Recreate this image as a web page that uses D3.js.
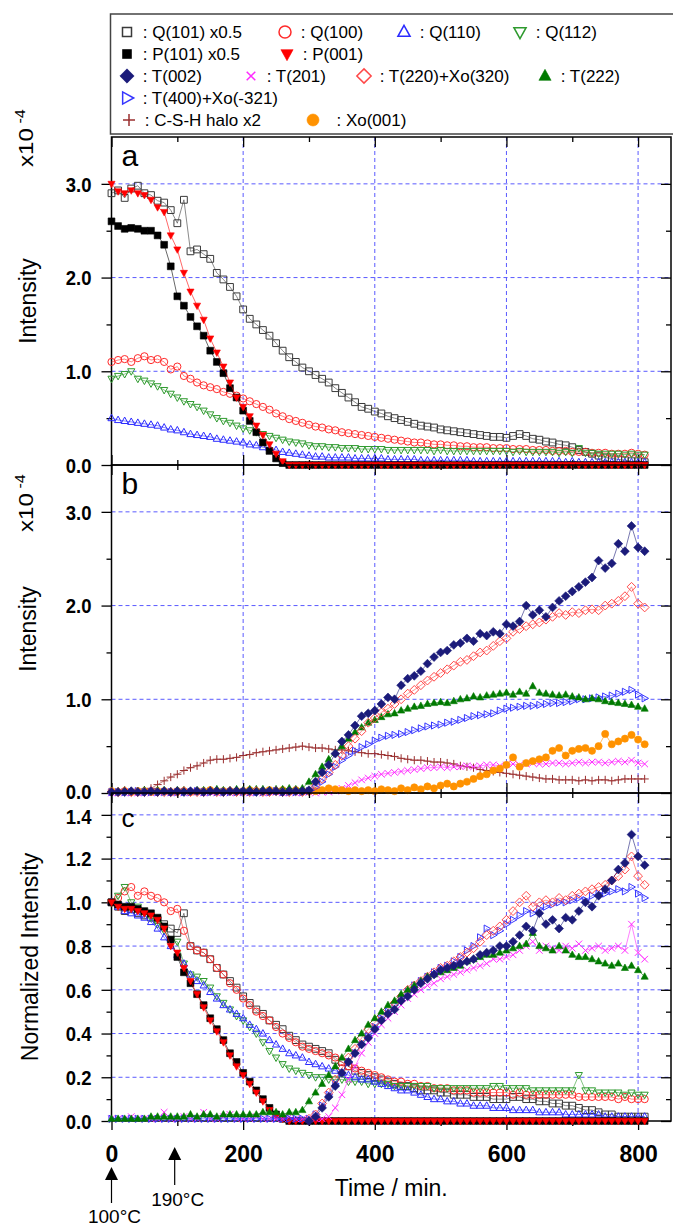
<!DOCTYPE html>
<html><head><meta charset="utf-8">
<script src="https://cdn.jsdelivr.net/npm/d3@7"></script>
<style>body{margin:0;background:#fff}svg{display:block}</style>
</head><body>
<svg id="chart" width="673" height="1229"></svg>
<script>
// ---------------- DATA ----------------
const times = [0,10,20,30,40,50,60,70,80,90,
100,110,120,130,140,150,160,170,180,190,
200,210,220,230,240,250,260,270,280,290,
300,310,320,330,340,350,360,370,380,390,
400,410,420,430,440,450,460,470,480,490,
500,510,520,530,540,550,560,570,580,590,
600,610,620,630,640,650,660,670,680,690,
700,710,720,730,740,750,760,770,780,790,
800,810];

// Panel a (Intensity x10^-4)
const aQ101 = [2.90,2.93,2.85,2.95,2.98,2.90,2.88,2.82,2.80,2.72,
2.58,2.83,2.28,2.30,2.25,2.20,2.05,1.98,1.90,1.80,
1.66,1.56,1.50,1.44,1.38,1.30,1.22,1.15,1.10,1.04,
1.00,0.96,0.92,0.88,0.82,0.77,0.72,0.67,0.62,0.60,
0.57,0.55,0.52,0.50,0.48,0.46,0.44,0.42,0.41,0.40,
0.38,0.37,0.36,0.35,0.34,0.33,0.32,0.31,0.30,0.30,
0.29,0.31,0.33,0.31,0.28,0.27,0.25,0.24,0.22,0.21,
0.19,0.16,0.14,0.12,0.10,0.08,0.07,0.06,0.05,0.04,
0.04,0.03];
const aP101 = [2.60,2.55,2.52,2.53,2.52,2.50,2.50,2.45,2.35,2.12,
1.80,1.70,1.58,1.48,1.38,1.22,1.10,0.98,0.82,0.72,
0.58,0.47,0.35,0.24,0.15,0.07,0.02,0,0,0,
0,0,0,0,0,0,0,0,0,0,
0,0,0,0,0,0,0,0,0,0,
0,0,0,0,0,0,0,0,0,0,
0,0,0,0,0,0,0,0,0,0,
0,0,0,0,0,0,0,0,0,0,
0,0];
const aP001 = [3.00,2.92,2.90,2.93,2.90,2.88,2.83,2.75,2.70,2.45,
2.30,2.05,1.85,1.70,1.55,1.35,1.20,1.05,0.88,0.72,
0.62,0.52,0.42,0.32,0.22,0.12,0.04,0,0,0,
0,0,0,0,0,0,0,0,0,0,
0,0,0,0,0,0,0,0,0,0,
0,0,0,0,0,0,0,0,0,0,
0,0,0,0,0,0,0,0,0,0,
0,0,0,0,0,0,0,0,0,0,
0,0];
const aQ100 = [1.10,1.12,1.13,1.10,1.14,1.16,1.12,1.13,1.10,1.02,
1.05,0.95,0.92,0.88,0.85,0.83,0.81,0.78,0.76,0.74,
0.71,0.68,0.65,0.62,0.59,0.55,0.52,0.49,0.47,0.45,
0.43,0.41,0.40,0.38,0.37,0.35,0.34,0.33,0.32,0.31,
0.30,0.29,0.28,0.27,0.26,0.25,0.24,0.24,0.23,0.22,
0.22,0.21,0.21,0.20,0.20,0.19,0.19,0.19,0.18,0.18,
0.18,0.17,0.17,0.17,0.16,0.16,0.16,0.15,0.15,0.15,
0.14,0.14,0.14,0.13,0.13,0.13,0.12,0.12,0.12,0.13,
0.12,0.11];
const aQ112 = [0.92,0.95,0.97,1.00,0.92,0.90,0.87,0.84,0.80,0.76,
0.72,0.68,0.65,0.62,0.58,0.54,0.50,0.47,0.45,0.42,
0.39,0.37,0.35,0.33,0.31,0.29,0.27,0.25,0.24,0.23,
0.21,0.20,0.20,0.19,0.19,0.18,0.18,0.18,0.17,0.17,
0.17,0.17,0.16,0.16,0.16,0.16,0.16,0.16,0.16,0.15,
0.16,0.15,0.15,0.15,0.15,0.15,0.15,0.15,0.15,0.15,
0.15,0.14,0.15,0.14,0.14,0.14,0.14,0.14,0.13,0.14,
0.13,0.18,0.13,0.13,0.12,0.12,0.12,0.12,0.11,0.12,
0.11,0.11];
const aQ110 = [0.50,0.48,0.47,0.46,0.45,0.44,0.43,0.42,0.40,0.38,
0.37,0.35,0.33,0.32,0.31,0.30,0.28,0.27,0.26,0.25,
0.24,0.22,0.21,0.19,0.18,0.16,0.14,0.13,0.12,0.11,
0.10,0.09,0.09,0.08,0.08,0.08,0.08,0.07,0.07,0.07,
0.07,0.07,0.06,0.06,0.06,0.06,0.06,0.05,0.05,0.05,
0.05,0.05,0.05,0.05,0.05,0.04,0.04,0.04,0.04,0.04,
0.04,0.04,0.04,0.04,0.04,0.04,0.04,0.04,0.04,0.03,
0.04,0.03,0.03,0.03,0.03,0.03,0.03,0.03,0.03,0.03,
0.03,0.03];

// Panel b (Intensity x10^-4)
const bT002 = [0.01,0.01,0.01,0.02,0.01,0.01,0.02,0.01,0.02,0.01,
0.02,0.01,0.02,0.02,0.01,0.02,0.02,0.01,0.02,0.02,
0.02,0.02,0.01,0.02,0.02,0.02,0.01,0.02,0.02,0.02,
0.03,0.12,0.22,0.30,0.42,0.55,0.62,0.72,0.82,0.85,
0.88,0.95,1.02,1.00,1.15,1.22,1.25,1.30,1.38,1.45,
1.50,1.52,1.58,1.60,1.65,1.62,1.70,1.68,1.72,1.70,
1.80,1.78,1.83,2.00,1.90,1.95,1.88,1.98,2.05,2.10,
2.15,2.20,2.25,2.30,2.48,2.40,2.45,2.66,2.58,2.85,
2.62,2.58];
const bT220 = [0.01,0.01,0.02,0.01,0.01,0.01,0.02,0.01,0.01,0.01,
0.01,0.02,0.01,0.01,0.01,0.02,0.01,0.01,0.02,0.01,
0.01,0.01,0.02,0.01,0.01,0.02,0.01,0.01,0.02,0.01,
0.02,0.08,0.15,0.22,0.30,0.40,0.50,0.58,0.66,0.75,
0.80,0.86,0.90,0.95,1.00,1.06,1.10,1.15,1.20,1.24,
1.28,1.32,1.36,1.40,1.42,1.46,1.50,1.52,1.57,1.62,
1.65,1.72,1.75,1.78,1.80,1.82,1.85,1.88,1.92,1.90,
1.93,1.92,1.95,1.96,1.95,2.00,2.02,2.05,2.10,2.20,
2.02,1.98];
const bT222 = [0.02,0.02,0.03,0.02,0.02,0.03,0.02,0.03,0.03,0.02,
0.03,0.03,0.02,0.03,0.03,0.03,0.04,0.03,0.03,0.04,
0.03,0.04,0.04,0.04,0.03,0.04,0.04,0.05,0.04,0.05,
0.12,0.20,0.28,0.36,0.43,0.50,0.58,0.65,0.70,0.75,
0.78,0.81,0.84,0.85,0.88,0.90,0.92,0.93,0.95,0.96,
0.97,0.96,0.98,1.00,1.01,1.03,1.02,1.04,1.05,1.06,
1.07,1.05,1.08,1.06,1.14,1.07,1.06,1.05,1.04,1.05,
1.03,1.02,1.00,1.01,1.00,0.98,0.97,0.96,0.95,0.94,
0.92,0.90];
const bT400 = [0.01,0.01,0.01,0.01,0.02,0.01,0.01,0.01,0.01,0.01,
0.01,0.01,0.01,0.02,0.01,0.01,0.01,0.01,0.01,0.01,
0.01,0.01,0.01,0.01,0.01,0.02,0.01,0.01,0.01,0.01,
0.02,0.06,0.12,0.20,0.28,0.35,0.40,0.45,0.49,0.52,
0.56,0.59,0.61,0.62,0.63,0.65,0.67,0.69,0.71,0.72,
0.73,0.75,0.76,0.78,0.80,0.82,0.83,0.84,0.85,0.88,
0.90,0.91,0.92,0.93,0.93,0.94,0.95,0.96,0.96,0.97,
0.98,1.00,1.00,1.01,1.02,1.03,1.04,1.06,1.08,1.10,
1.05,1.01];
const bT201 = [0.00,0.01,0.00,0.01,0.00,0.01,0.00,0.01,0.01,0.00,
0.01,0.00,0.01,0.01,0.00,0.01,0.00,0.01,0.00,0.01,
0.01,0.00,0.01,0.00,0.01,0.01,0.00,0.01,0.00,0.01,
0.01,0.00,0.01,0.01,0.02,0.05,0.08,0.11,0.14,0.16,
0.18,0.20,0.21,0.22,0.23,0.24,0.25,0.26,0.27,0.27,
0.28,0.27,0.28,0.28,0.29,0.28,0.29,0.30,0.30,0.29,
0.30,0.31,0.30,0.31,0.32,0.31,0.31,0.32,0.32,0.31,
0.32,0.33,0.32,0.33,0.33,0.32,0.33,0.34,0.33,0.35,
0.32,0.31];
const bCSH = [0.01,0.01,0.02,0.01,0.02,0.03,0.05,0.09,0.13,0.17,
0.20,0.24,0.27,0.29,0.32,0.35,0.36,0.36,0.37,0.38,
0.40,0.41,0.43,0.44,0.45,0.46,0.47,0.48,0.49,0.50,
0.49,0.48,0.48,0.47,0.46,0.46,0.45,0.44,0.43,0.42,
0.42,0.41,0.40,0.39,0.37,0.36,0.35,0.35,0.34,0.33,
0.33,0.32,0.31,0.29,0.28,0.27,0.25,0.24,0.23,0.22,
0.21,0.20,0.19,0.18,0.17,0.16,0.15,0.15,0.14,0.14,
0.14,0.13,0.14,0.13,0.14,0.14,0.13,0.14,0.15,0.15,
0.15,0.15];
const bXo001 = [0.02,0.01,0.02,0.01,0.02,0.02,0.01,0.02,0.02,0.01,
0.02,0.02,0.01,0.02,0.02,0.03,0.02,0.02,0.02,0.02,
0.02,0.03,0.02,0.02,0.03,0.02,0.03,0.02,0.03,0.02,
0.02,0.02,0.03,0.05,0.04,0.03,0.02,0.03,0.02,0.03,
0.02,0.04,0.03,0.02,0.05,0.03,0.06,0.04,0.07,0.05,
0.08,0.10,0.07,0.10,0.12,0.15,0.18,0.20,0.24,0.26,
0.30,0.38,0.28,0.32,0.34,0.36,0.38,0.45,0.48,0.40,
0.45,0.47,0.48,0.45,0.50,0.63,0.52,0.55,0.58,0.62,
0.57,0.52];

// Panel c (Normalized intensity); null = no point
const cQ101 = [1.00,0.98,0.96,0.97,0.95,0.94,0.93,0.92,0.90,0.88,
0.86,0.95,0.80,0.78,0.77,0.74,0.70,0.67,0.64,0.61,
0.57,0.54,0.51,0.49,0.46,0.44,0.42,0.39,0.37,0.35,
0.34,0.33,0.32,0.31,0.28,0.27,0.25,0.23,0.22,0.21,
0.20,0.19,0.18,0.17,0.16,0.16,0.15,0.14,0.14,0.14,
0.13,0.13,0.12,0.12,0.12,0.11,0.11,0.11,0.10,0.10,
0.10,0.11,0.11,0.10,0.10,0.09,0.09,0.08,0.08,0.07,
0.07,0.06,0.05,0.05,0.04,0.03,0.03,0.02,0.02,0.02,
0.02,0.02];
const cP101 = [1.00,0.99,0.98,0.98,0.97,0.96,0.95,0.93,0.89,0.83,
0.75,0.68,0.63,0.58,0.53,0.47,0.42,0.37,0.31,0.27,
0.22,0.18,0.14,0.10,0.06,0.03,0.01,0,0,0,
0,0,0,0,0,0,0,0,0,0,
0,0,0,0,0,0,0,0,0,0,
0,0,0,0,0,0,0,0,0,0,
0,0,0,0,0,0,0,0,0,0,
0,0,0,0,0,0,0,0,0,0,
0,0];
const cP001 = [1.00,0.98,0.97,0.97,0.96,0.95,0.94,0.92,0.88,0.80,
0.77,0.70,0.64,0.58,0.52,0.46,0.41,0.36,0.30,0.25,
0.21,0.17,0.13,0.09,0.05,0.02,0.01,0,0,0,
0,0,0,0,0,0,0,0,0,0,
0,0,0,0,0,0,0,0,0,0,
0,0,0,0,0,0,0,0,0,0,
0,0,0,0,0,0,0,0,0,0,
0,0,0,0,0,0,0,0,0,0,
0,0];
const cQ100 = [1.00,1.02,1.05,1.07,1.03,1.05,1.03,1.02,1.00,0.96,
0.97,0.87,0.80,0.78,0.77,0.74,0.70,0.67,0.63,0.60,
0.56,0.53,0.50,0.48,0.46,0.43,0.40,0.38,0.36,0.34,
0.33,0.32,0.31,0.30,0.29,0.27,0.25,0.24,0.23,0.22,
0.21,0.20,0.19,0.18,0.18,0.17,0.17,0.16,0.16,0.15,
0.15,0.15,0.14,0.14,0.14,0.13,0.13,0.13,0.13,0.13,
0.13,0.12,0.13,0.12,0.12,0.12,0.12,0.12,0.12,0.12,
0.12,0.11,0.11,0.11,0.11,0.11,0.11,0.10,0.11,0.10,
0.10,0.10];
const cQ110 = [1.00,0.98,0.96,0.95,0.94,0.93,0.91,0.88,0.84,0.80,
0.76,0.72,0.67,0.64,0.62,0.59,0.56,0.53,0.51,0.49,
0.47,0.44,0.42,0.40,0.37,0.35,0.33,0.31,0.30,0.29,
0.27,0.26,0.25,0.24,0.23,0.22,0.21,0.20,0.19,0.19,
0.18,0.17,0.16,0.15,0.14,0.14,0.13,0.12,0.11,0.10,
0.10,0.09,0.09,0.08,0.08,0.07,0.07,0.07,0.06,0.06,
0.06,0.05,0.05,0.05,0.05,0.04,0.04,0.04,0.04,0.03,
0.03,0.03,0.03,0.03,0.03,0.02,0.02,0.02,0.02,0.02,
0.02,0.02];
const cQ112 = [1.00,1.03,1.07,1.00,0.98,0.95,0.93,0.90,0.87,0.83,
0.82,0.72,0.67,0.66,0.64,0.61,0.57,0.54,0.51,0.48,
0.46,0.43,0.40,0.36,0.32,0.29,0.26,0.24,0.23,0.22,
0.21,0.20,0.20,0.19,0.19,0.19,0.18,0.18,0.18,0.17,
0.17,0.17,0.17,0.16,0.16,0.16,0.16,0.16,0.16,0.15,
0.15,0.15,0.15,0.15,0.15,0.15,0.15,0.15,0.16,0.16,
0.15,0.15,0.15,0.15,0.14,0.14,0.14,0.14,0.14,0.14,
0.14,0.21,0.14,0.14,0.13,0.13,0.13,0.13,0.12,0.13,
0.12,0.12];
const cT002 = [null,null,null,null,null,null,null,null,null,null,
null,null,null,null,null,null,null,null,null,null,
null,null,null,null,null,null,null,null,null,null,
0.00,0.02,0.06,0.11,0.16,0.22,0.27,0.31,0.35,0.38,
0.42,0.46,0.49,0.51,0.55,0.57,0.60,0.63,0.65,0.67,
0.69,0.70,0.71,0.72,0.73,0.74,0.76,0.77,0.78,0.80,
0.80,0.82,0.85,0.89,0.87,0.95,0.90,0.92,0.88,0.93,
0.92,0.96,1.00,0.98,1.03,1.06,1.10,1.15,1.18,1.31,
1.21,1.17];
const cT220 = [null,null,null,null,null,null,null,null,null,null,
null,null,null,null,null,null,null,null,null,null,
null,null,null,null,null,null,null,null,null,null,
0.01,0.03,0.08,0.13,0.19,0.24,0.29,0.33,0.38,0.42,
0.45,0.48,0.51,0.54,0.57,0.60,0.62,0.64,0.66,0.68,
0.70,0.71,0.73,0.75,0.77,0.79,0.82,0.85,0.87,0.89,
0.92,0.96,1.00,1.03,0.98,1.00,1.01,1.00,1.02,1.01,
1.03,1.04,1.05,1.06,1.07,1.08,1.10,1.12,1.15,1.21,
1.12,1.08];
const cT400 = [0.01,0.01,0.01,0.01,0.01,0.01,0.01,0.01,0.01,0.01,
0.01,0.01,0.01,0.01,0.01,0.01,0.01,0.01,0.01,0.01,
0.01,0.01,0.01,0.01,0.01,0.01,0.01,0.01,0.01,0.01,
0.01,0.03,0.07,0.12,0.17,0.22,0.27,0.31,0.35,0.39,
0.43,0.47,0.50,0.53,0.56,0.59,0.62,0.64,0.66,0.68,
0.70,0.71,0.73,0.75,0.78,0.80,0.84,0.88,0.85,0.87,
0.90,0.92,0.94,0.96,0.95,0.97,0.98,0.99,1.00,1.00,
1.01,1.02,1.01,1.03,1.04,1.04,1.05,1.06,1.05,1.07,
1.04,1.02];
const cT222 = [0.01,0.01,0.01,0.01,0.01,0.01,0.02,0.02,0.02,0.02,
0.02,0.02,0.03,0.02,0.03,0.03,0.02,0.03,0.03,0.03,
0.03,0.03,0.03,0.04,0.04,0.04,0.03,0.04,0.04,0.05,
0.09,0.13,0.17,0.21,0.25,0.29,0.33,0.37,0.40,0.44,
0.47,0.50,0.53,0.55,0.58,0.60,0.62,0.64,0.66,0.67,
0.68,0.69,0.70,0.71,0.73,0.74,0.75,0.76,0.76,0.77,
0.78,0.79,0.80,0.81,0.86,0.80,0.79,0.78,0.80,0.78,
0.76,0.75,0.75,0.74,0.73,0.72,0.71,0.72,0.70,0.71,
0.69,0.66];
const cT201 = [0.01,0.01,0.01,0.02,0.01,0.01,0.01,0.01,0.04,0.01,
0.01,0.02,0.01,0.01,0.04,0.01,0.01,0.02,0.03,0.01,
0.01,0.01,0.02,0.01,0.01,0.01,0.01,0.02,0.01,0.01,
0.01,0.01,0.01,0.02,0.06,0.12,0.19,0.25,0.31,0.36,
0.40,0.44,0.47,0.50,0.53,0.56,0.58,0.60,0.62,0.63,
0.65,0.66,0.67,0.68,0.69,0.70,0.71,0.72,0.74,0.74,
0.75,0.76,0.78,0.80,0.82,0.78,0.80,0.79,0.78,0.80,
0.79,0.81,0.78,0.79,0.80,0.78,0.79,0.80,0.78,0.90,
0.77,0.74];

const xTickLabels = [0,200,400,600,800];
const xMinorTicks = [100,300,500,700];
const abTicks = [0,1,2,3];
const abMinor = [0.5,1.5,2.5];
const cTicks = [0,0.2,0.4,0.6,0.8,1.0,1.2,1.4];
const cMinor = [0.1,0.3,0.5,0.7,0.9,1.1,1.3];
const tempMarks = [{t:0,label:"100°C"},{t:96,label:"190°C"}];

// ---------------- STYLE ----------------
const FONT = "'Liberation Sans', Arial, Helvetica, sans-serif";
const S = {
  q101:{label:"Q(101) x0.5", sym:"square", color:"#3a3a3a", fill:false},
  q100:{label:"Q(100)", sym:"circle", color:"#ff2a2a", fill:false},
  q110:{label:"Q(110)", sym:"triUp", color:"#2b2bff", fill:false},
  q112:{label:"Q(112)", sym:"triDown", color:"#2e9a2e", fill:false},
  p101:{label:"P(101) x0.5", sym:"square", color:"#000000", fill:true},
  p001:{label:"P(001)", sym:"triDown", color:"#ff0000", fill:true},
  t002:{label:"T(002)", sym:"diamond", color:"#1b1b7a", fill:true},
  t201:{label:"T(201)", sym:"cross", color:"#ff2aff", fill:false},
  t220:{label:"T(220)+Xo(320)", sym:"diamond", color:"#ff4848", fill:false},
  t222:{label:"T(222)", sym:"triUp", color:"#007a00", fill:true},
  t400:{label:"T(400)+Xo(-321)", sym:"triRight", color:"#3535ff", fill:false},
  csh:{label:"C-S-H halo x2", sym:"plus", color:"#9a2f2f", fill:false},
  xo001:{label:"Xo(001)", sym:"circle", color:"#ff9200", fill:true}
};

function symPath(type, h){
  switch(type){
    case "square": return `M${-h},${-h}H${h}V${h}H${-h}Z`;
    case "circle": return `M${h},0A${h},${h} 0 1,1 ${-h},0A${h},${h} 0 1,1 ${h},0Z`;
    case "triUp": return `M0,${-h*1.15}L${h*1.05},${h*0.75}L${-h*1.05},${h*0.75}Z`;
    case "triDown": return `M0,${h*1.15}L${h*1.05},${-h*0.75}L${-h*1.05},${-h*0.75}Z`;
    case "triRight": return `M${h*1.15},0L${-h*0.75},${-h*1.05}L${-h*0.75},${h*1.05}Z`;
    case "diamond": { const k=h*1.3; return `M0,${-k}L${k},0L0,${k}L${-k},0Z`; }
    case "cross": return `M${-h},${-h}L${h},${h}M${-h},${h}L${h},${-h}`;
    case "plus": { const k=h*1.2; return `M${-k},0H${k}M0,${-k}V${k}`; }
  }
}

const svg = d3.select("#chart");
const X0 = 111.5, X1 = 671;
const x = d3.scaleLinear().domain([0,850]).range([X0,X1]);

const panels = [
  {id:"a", top:137, bottom:465, dom:[0,3.5], major:abTicks, minor:abMinor, title:"Intensity", exp:true,
   series:[["q101",aQ101],["q100",aQ100],["q112",aQ112],["q110",aQ110],["p101",aP101],["p001",aP001]]},
  {id:"b", top:465, bottom:793, dom:[0,3.5], major:abTicks, minor:abMinor, title:"Intensity", exp:true,
   series:[["csh",bCSH],["t201",bT201],["xo001",bXo001],["t400",bT400],["t222",bT222],["t220",bT220],["t002",bT002]]},
  {id:"c", top:793, bottom:1121, dom:[0,1.5], major:cTicks, minor:cMinor, title:"Normalized Intensity", exp:false,
   series:[["q101",cQ101],["q100",cQ100],["q112",cQ112],["q110",cQ110],["p101",cP101],["p001",cP001],
           ["t201",cT201],["t400",cT400],["t220",cT220],["t222",cT222],["t002",cT002]]}
];

function cleanAxis(g){
  g.attr("font-family",null).attr("font-size",null);
  g.select(".domain").remove();
  g.selectAll("line").attr("stroke","#000").attr("stroke-width",1.3);
}

panels.forEach((p)=>{
  const y = d3.scaleLinear().domain(p.dom).range([p.bottom,p.top]);
  const g = svg.append("g");
  // grid
  g.selectAll(".vg").data(xTickLabels.filter(d=>d>0)).join("line")
    .attr("x1",d=>x(d)).attr("x2",d=>x(d)).attr("y1",p.top).attr("y2",p.bottom)
    .attr("stroke","#5a5aff").attr("stroke-width",1).attr("stroke-dasharray","4,3");
  g.selectAll(".hg").data(p.major.filter(d=>d>0)).join("line")
    .attr("x1",X0).attr("x2",X1).attr("y1",d=>y(d)).attr("y2",d=>y(d))
    .attr("stroke","#5a5aff").attr("stroke-width",1).attr("stroke-dasharray","4,3");
  // frame
  g.append("rect").attr("x",X0).attr("y",p.top).attr("width",X1-X0).attr("height",p.bottom-p.top)
    .attr("fill","none").attr("stroke","#000").attr("stroke-width",1.5);
  // left axis
  const la = g.append("g").attr("transform",`translate(${X0},0)`)
    .call(d3.axisLeft(y).tickValues(p.major).tickSize(10).tickFormat(d3.format(".1f")));
  cleanAxis(la);
  la.selectAll("text").attr("x",-20/0.88).attr("dy","0.35em").attr("transform","scale(0.88,1)")
    .style("font-family",FONT).style("font-weight","bold").style("font-size","21px").attr("fill","#000");
  if(p.id==="b") la.selectAll("text").filter(d=>d===0).attr("y",-2);
  if(p.id==="c") la.selectAll("text").filter(d=>d===1.4).attr("y",1);
  const lm = g.append("g").attr("transform",`translate(${X0},0)`)
    .call(d3.axisLeft(y).tickValues(p.minor).tickSize(5).tickFormat(""));
  cleanAxis(lm);
  // right axis (inward)
  [[p.major,10],[p.minor,5]].forEach(([tv,sz])=>{
    const ra = g.append("g").attr("transform",`translate(${X1},0)`)
      .call(d3.axisLeft(y).tickValues(tv).tickSize(sz).tickFormat(""));
    cleanAxis(ra);
  });
  // top axis (inward)
  [[xTickLabels,10],[xMinorTicks,5]].forEach(([tv,sz])=>{
    const ta = g.append("g").attr("transform",`translate(0,${p.top})`)
      .call(d3.axisBottom(x).tickValues(tv).tickSize(sz).tickFormat(""));
    cleanAxis(ta);
  });
  // bottom axis
  if(p.id!=="c"){
    [[xTickLabels,10],[xMinorTicks,5]].forEach(([tv,sz])=>{
      const ba = g.append("g").attr("transform",`translate(0,${p.bottom})`)
        .call(d3.axisTop(x).tickValues(tv).tickSize(sz).tickFormat(""));
      cleanAxis(ba);
    });
  } else {
    const ba = g.append("g").attr("transform",`translate(0,${p.bottom})`)
      .call(d3.axisBottom(x).tickValues(xTickLabels).tickSize(9).tickFormat(d3.format("d")));
    cleanAxis(ba);
    ba.selectAll("text").attr("y",25).attr("dy","0.71em")
      .style("font-family",FONT).style("font-weight","bold").style("font-size","23px").attr("fill","#000");
    const bm = g.append("g").attr("transform",`translate(0,${p.bottom})`)
      .call(d3.axisBottom(x).tickValues(xMinorTicks).tickSize(5).tickFormat(""));
    cleanAxis(bm);
  }
  // data
  const line = d3.line().defined(d=>d.v!=null).x(d=>x(d.t)).y(d=>y(d.v));
  p.series.forEach(([key,vals])=>{
    const st = S[key];
    const pts = vals.map((v,i)=>({t:times[i], v}));
    g.append("path").datum(pts).attr("d",line).attr("fill","none")
      .attr("stroke",st.color).attr("stroke-width",0.7).attr("stroke-opacity",0.85);
    const h = st.sym==="circle" ? 3.6 : st.sym==="cross" ? 3.3 : 3.4;
    g.append("g").selectAll("path").data(pts.filter(d=>d.v!=null)).join("path")
      .attr("transform",d=>`translate(${x(d.t)},${y(d.v)})`)
      .attr("d",symPath(st.sym,h))
      .attr("fill",st.fill? st.color : "none")
      .attr("stroke",st.color).attr("stroke-width",st.fill?0.6:1);
  });
  // panel letter
  g.append("text").attr("x",X0+10).attr("y",p.id==="c"? p.top+34 : p.top+29)
    .style("font-family",FONT).style("font-size",p.id==="c"?"26px":"30px").text(p.id);
  // y title
  const mid = (p.top+p.bottom)/2;
  g.append("text").attr("transform",`translate(${p.id==="c"?38:36},${mid})rotate(-90)`)
    .attr("text-anchor","middle").style("font-family",FONT).style("font-size","23px").text(p.title);
  if(p.exp){
    const ey = p.id==="a" ? 167 : 532;
    const t = g.append("text").attr("transform",`translate(33,${ey})scale(1,1.15)rotate(-90)`)
      .style("font-family",FONT).style("font-size","21px");
    t.append("tspan").text("x10");
    t.append("tspan").attr("dy",-8).style("font-size","14px").text(" -4");
  }
});

// x title
svg.append("text").attr("x",(X0+X1)/2).attr("y",1196).attr("text-anchor","middle")
  .style("font-family",FONT).style("font-size","23px").text("Time / min.");

// temperature arrows
const arrowGeo = [{tip:1167, base:1180, end:1203, ty:1223},{tip:1147, base:1160, end:1185, ty:1206}];
tempMarks.forEach((m,i)=>{
  const ax = x(m.t), a = arrowGeo[i];
  svg.append("path").attr("d",`M${ax},${a.tip}L${ax+6.5},${a.base}L${ax-6.5},${a.base}Z`).attr("fill","#000");
  svg.append("line").attr("x1",ax).attr("x2",ax).attr("y1",a.base).attr("y2",a.end).attr("stroke","#000").attr("stroke-width",1.2);
  svg.append("text").attr("x",ax+3).attr("y",a.ty).attr("text-anchor","middle")
    .style("font-family",FONT).style("font-size","19px").text(m.label);
});

// legend
svg.append("rect").attr("x",110.5).attr("y",14).attr("width",600).attr("height",120)
  .attr("fill","#fff").attr("stroke","#444").attr("stroke-width",1.5);
const legendRows = [
  {y:32, items:[["q101",127],["q100",285],["q110",404],["q112",520]]},
  {y:54, items:[["p101",127],["p001",287]]},
  {y:76, items:[["t002",127],["t201",251],["t220",364],["t222",545]]},
  {y:98, items:[["t400",127]]},
  {y:120, items:[["csh",129],["xo001",313]]}
];
const legendSize = {square:4.5, circle:6, triUp:5.8, triDown:5.8, triRight:5.8, diamond:5.5, cross:4.3, plus:5};
legendRows.forEach(r=>{
  r.items.forEach(([key,cx])=>{
    const st = S[key];
    svg.append("path").attr("transform",`translate(${cx},${r.y})`)
      .attr("d",symPath(st.sym,legendSize[st.sym]))
      .attr("fill",st.fill?st.color:"none").attr("stroke",st.color).attr("stroke-width",st.fill?0.6:1.5);
    svg.append("text").attr("x",cx+(key==="xo001"?14:11)).attr("y",r.y+6)
      .style("font-family",FONT).style("font-size","17px").attr("xml:space","preserve")
      .text((key==="xo001"?"  : ":" : ")+st.label);
  });
});
</script>
</body></html>
